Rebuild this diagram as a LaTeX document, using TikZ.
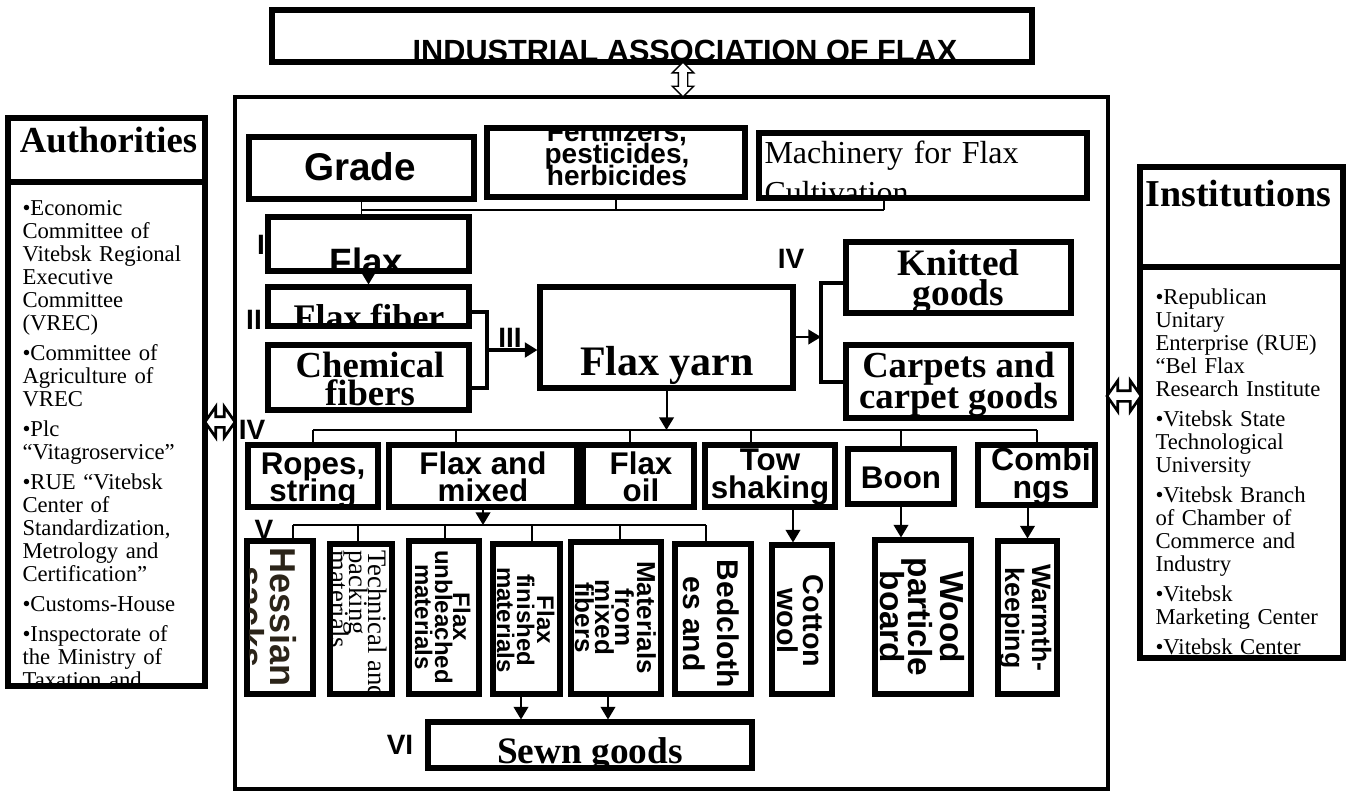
\documentclass[tikz,border=0pt]{standalone}
\usepackage{fontspec}
\setmainfont{Liberation Serif}
\setsansfont{Liberation Sans}
\usetikzlibrary{arrows.meta, fit, shapes.arrows}
\definecolor{sacking}{HTML}{2B2419}
\newcommand\setfs[2]{\fontsize{#1}{#2}\selectfont\lineskiplimit=-1000pt\relax}
\newcommand\justline[1]{\makebox[\hsize][s]{#1}}
% text kept inside the inner edge of a box
\newcommand\cliptext[2]{\begin{scope}
  \clip ([xshift=3.8pt, yshift=3.8pt]#1.south west) rectangle ([xshift=-3.8pt, yshift=-3.8pt]#1.north east);
  #2\end{scope}}
\tikzset{
  every picture/.style={x=0.75pt, y=-0.75pt},
  box/.style={draw, line width=3.8pt, inner sep=0pt},
  % one text line per item: x offset / y offset of its baseline / text
  txt/.style 2 args={path picture={\foreach \lx/\ly/\lt in {#2}
    {\node[inner sep=0pt, anchor=base, dx=\lx, dy=\ly, #1] at (path picture bounding box.center) {\lt};}}},
  para/.style 2 args={path picture={\node[inner sep=0pt, anchor=north west, #1] at (path picture bounding box.center) {#2};}},
  dx/.style={xshift=#1*0.75pt},
  dy/.style={yshift=-(#1)*0.75pt},
  vtext/.style={rotate=-90, anchor=base, inner sep=0pt},
  sansbold/.style 2 args={font=\sffamily\bfseries\setfs{#1}{#2}},
  serifbold/.style 2 args={font=\rmfamily\bfseries\setfs{#1}{#2}},
  serifplain/.style 2 args={font=\rmfamily\setfs{#1}{#2}},
  link/.style={line width=1.3pt},
  bus/.style={line width=2.2pt},
  heavy/.style={line width=3pt},
  arrow/.style={-{Triangle[length=9.5pt, width=11pt]}, line width=1.5pt},
  twoway/.style={double arrow, draw, fill=white, inner xsep=0pt, line width=2pt},
  roman/.style={font=\sffamily\bfseries\setfs{21}{21}, inner sep=0pt},
}

\begin{document}
\begin{tikzpicture}
  \useasboundingbox (0,0) rectangle (1346,796);
  % association and the flax complex
  \node[box, line width=3.2pt, fit={(235,97) (1108,789)}] (main) {};
  \node[box, fit={(272,10) (1032,62)}, txt={sansbold={23}{23}}{33/25/INDUSTRIAL ASSOCIATION OF FLAX}] (title) {};
  \node[twoway, rotate=90, minimum height=26pt, inner ysep=3pt, double arrow head extend=4.5pt, line width=1pt] (toplink) at (683,79.5) {};

  % authorities
  \node[box, fit={(8,118) (205,182)}, txt={serifbold={27.5}{27.5}}{2/2/Authorities}] (authhead) {};
  \node[box, fit={(8,182) (205,686)}, para={dx=-86.5, dy=-236.5, text width=133pt, align=left, serifplain={17}{17.25}}{%
    •Economic\\ \justline{Committee of}\\ \justline{Vitebsk Regional}\\ Executive\\ Committee\\ (VREC)\\[5.25pt]
    \justline{•Committee of}\\ \justline{Agriculture of}\\ VREC\\[5.25pt]
    •Plc\\ “Vitagroservice”\\[5.25pt]
    \justline{•RUE “Vitebsk}\\ \justline{Center of}\\ Standardization,\\ \justline{Metrology and}\\ Certification”\\[5.25pt]
    •Customs-House\\[5.25pt]
    \justline{•Inspectorate of}\\ \justline{the Ministry of}\\ \justline{Taxation and}}] (authbody) {};
  \node[twoway, minimum height=22.5pt, inner ysep=3pt, double arrow head extend=7.5pt, double arrow tip angle=110] (leftlink) at (220,422) {};

  % institutions
  \node[box, fit={(1140,167) (1343,267)}, txt={serifbold={28.5}{28.5}}{-3/-11/Institutions}] (insthead) {};
  \node[box, fit={(1140,267) (1343,658)}, para={dx=-88.5, dy=-181, text width=134pt, align=left, serifplain={17}{17.25}}{%
    •Republican\\ Unitary\\ \justline{Enterprise (RUE)}\\ \justline{“Bel Flax}\\ Research Institute\\[5.25pt]
    \justline{•Vitebsk State}\\ Technological\\ University\\[5.25pt]
    \justline{•Vitebsk Branch}\\ \justline{of Chamber of}\\ \justline{Commerce and}\\ Industry\\[5.25pt]
    •Vitebsk\\ Marketing Center\\[5.25pt]
    \justline{•Vitebsk Center}}] (instbody) {};
  \node[twoway, minimum height=25.5pt, inner ysep=3pt, double arrow head extend=7.5pt, double arrow tip angle=110] (rightlink) at (1124,396) {};

  % inputs and stages I to III
  \node[box, fit={(249,137) (474,199)}, txt={sansbold={29}{29}}{-1.5/12/Grade}] (grade) {};
  \node[box, fit={(487,128) (745,197)}, txt={sansbold={21}{21}}{1/-21.5/{Fertilizers,}, 1/0.5/{pesticides,}, 1/22.5/herbicides}] (fert) {};
  \node[box, fit={(759,133) (1087,198)}, para={dx=-161, dy=-16.5, text width=232pt, align=left, serifplain={24}{30}}{\justline{Machinery for Flax}\\Cultivation}] (mach) {};
  \node[box, fit={(268,217) (469,271)}, txt={sansbold={27.5}{27.5}}{-2/30/Flax}] (flax) {};
  \node[box, fit={(268,287) (469,326)}, txt={serifbold={27}{27}}{0.5/22.5/Flax fiber}] (fiber) {};
  \node[box, fit={(268,345) (469,410)}, txt={serifbold={27.5}{27.5}}{1.5/-0.5/Chemical, 1.5/27.5/fibers}] (chem) {};
  \node[box, fit={(540,287) (793,388)}, txt={serifbold={31.5}{31.5}}{0.5/37.5/Flax yarn}] (yarn) {};
  \node[box, fit={(846,242) (1071,313)}, txt={serifbold={28}{28}}{0/-2.5/Knitted, 0/27.5/goods}] (knit) {};
  \node[box, fit={(846,345) (1071,418)}, txt={serifbold={27.5}{27.5}}{0/-4.5/Carpets and, 0/26.5/carpet goods}] (carpet) {};

  % stage IV
  \node[box, fit={(248,445) (378,507)}, txt={sansbold={23.5}{23.5}}{0/-2/{Ropes,}, 0/25/string}] (ropes) {};
  \node[box, fit={(389,445) (577,507)}, txt={sansbold={23.5}{23.5}}{0/-2/Flax and, 0/25/mixed}] (mixed) {};
  \node[box, fit={(583,445) (694,507)}, txt={sansbold={23.5}{23.5}}{2.5/-2/Flax, 2.5/25/oil}] (oil) {};
  \node[box, fit={(705,445) (835,507)}, txt={sansbold={23.5}{23.5}}{0/-6/Tow, 0/22/shaking}] (tow) {};
  \node[box, fit={(848,449) (954,504)}, txt={sansbold={23.5}{23.5}}{0/11.5/Boon}] (boon) {};
  \node[box, fit={(978,445) (1095,505)}, txt={sansbold={24}{24}}{4.5/-5/Combi, 4.5/23/ngs}] (comb) {};

  % stage V, written downwards
  \node[box, fit={(247,541) (313,694)}] (hessian) {};
  \node[box, fit={(330,544) (392,694)}] (tech) {};
  \node[box, fit={(409,541) (479,694)}] (unbl) {};
  \node[box, fit={(493,544) (560,694)}] (fin) {};
  \node[box, fit={(571,542) (661,694)}] (matmix) {};
  \node[box, fit={(675,544) (751,694)}] (bed) {};
  \node[box, fit={(772,545) (832,694)}] (cotton) {};
  \node[box, fit={(875,540) (971,694)}] (wood) {};
  \node[box, fit={(998,541) (1057,694)}] (warm) {};
  \cliptext{hessian}{\foreach \x/\t in {270/Hessian, 238/sacks}
    \node[vtext, text=sacking, sansbold={27}{27}] at (\x,617) {\t};}
  \cliptext{tech}{\foreach \x/\t in {368/Technical and, 349/packing, 330/materials}
    \node[vtext, anchor=base west, serifplain={20}{20}] at (\x,550) {\t};}
  \cliptext{unbl}{\foreach \x/\t in {453/Flax, 435/unbleached, 415/materials}
    \node[vtext, sansbold={18}{18}] at (\x,617) {\t};}
  \cliptext{fin}{\foreach \x/\t in {537/Flax, 517/finished, 497/materials}
    \node[vtext, sansbold={18}{18}] at (\x,620) {\t};}
  \cliptext{matmix}{\foreach \x/\t in {637/Materials, 615/from, 595/mixed, 575/fibers}
    \node[vtext, sansbold={19.5}{19.5}] at (\x,617.5) {\t};}
  \cliptext{bed}{\foreach \x/\t in {717/Bedcloth, 683/es and}
    \node[vtext, sansbold={22.5}{22.5}] at (\x,624) {\t};}
  \cliptext{cotton}{\foreach \x/\t in {803/Cotton, 777/wool}
    \node[vtext, sansbold={21.5}{21.5}] at (\x,621) {\t};}
  \cliptext{wood}{\foreach \x/\t in {940/Wood, 908/particle, 880/board}
    \node[vtext, sansbold={25}{25}] at (\x,617) {\t};}
  \cliptext{warm}{\foreach \x/\t in {1032/Warmth-, 1005/keeping}
    \node[vtext, sansbold={20}{20}] at (\x,618) {\t};}

  % stage VI
  \node[box, fit={(428,722) (752,768)}, txt={serifbold={28}{28}}{0/18/Sewn goods}] (sewn) {};

  % stage numbers
  \node[roman] (lvI) at (261,245) {I};
  \node[roman] (lvII) at (254,320) {II};
  \node[roman] (lvIII) at (510,338) {III};
  \node[roman] (lvIVa) at (791,259) {IV};
  \node[roman] (lvIVb) at (252,430) {IV};
  \node[roman] (lvV) at (264,530) {V};
  \node[roman] (lvVI) at (400,745) {VI};

  % inputs feed the flax
  \coordinate (busA) at (884,210);
  \draw[bus] (grade.south |- busA) -- (busA);
  \draw[link] (grade.south) -- (grade.south |- flax.north);
  \draw[link] (fert.south) -- (fert.south |- busA);
  \draw[link] (mach.south -| busA) -- (busA);
  \draw[arrow] (flax.south) -- (fiber.north);

  % fibres into yarn, yarn onwards
  \coordinate (joinF) at (487,350);
  \draw[heavy] ([yshift=-4pt]fiber.east) -| (joinF);
  \draw[heavy] ([yshift=-8pt]chem.east) -| (joinF);
  \draw[arrow, heavy] (joinF) -- (joinF -| yarn.west);
  \coordinate (joinK) at (821,337);
  \draw[arrow] (yarn.east |- joinK) -- (joinK);
  \draw[heavy] ([yshift=-4pt]knit.west) -| (joinK);
  \draw[heavy] (carpet.west) -| (joinK);

  % stage IV bus
  \coordinate (busB) at (0,430);
  \draw[arrow] (yarn.south) -- (yarn.south |- busB);
  \draw[bus] (ropes.north |- busB) -- (comb.north |- busB);
  \foreach \n/\x in {ropes/313, mixed/456, oil/630, tow/751, boon/901, comb/1037}
    \draw[link] (\x,0 |- busB) -- (\n.north -| \x,0);

  % stage V bus
  \coordinate (busC) at (0,525);
  \draw[arrow] (mixed.south) -- (mixed.south |- busC);
  \draw[bus] (293,0 |- busC) -- (706,0 |- busC);
  \foreach \n/\x in {hessian/293, tech/358, unbl/445, fin/532, matmix/620, bed/706}
    \draw[link] (\x,0 |- busC) -- (\n.north -| \x,0);
  \draw[arrow] (tow.south -| 793,0) -- (cotton.north -| 793,0);
  \draw[arrow] (boon.south) -- (boon.south |- wood.north);
  \draw[arrow] (comb.south -| warm.north) -- (warm.north);

  % into sewn goods
  \draw[arrow] (fin.south -| 521,0) -- (sewn.north -| 521,0);
  \draw[arrow] (matmix.south -| 608,0) -- (sewn.north -| 608,0);
\end{tikzpicture}
\end{document}
